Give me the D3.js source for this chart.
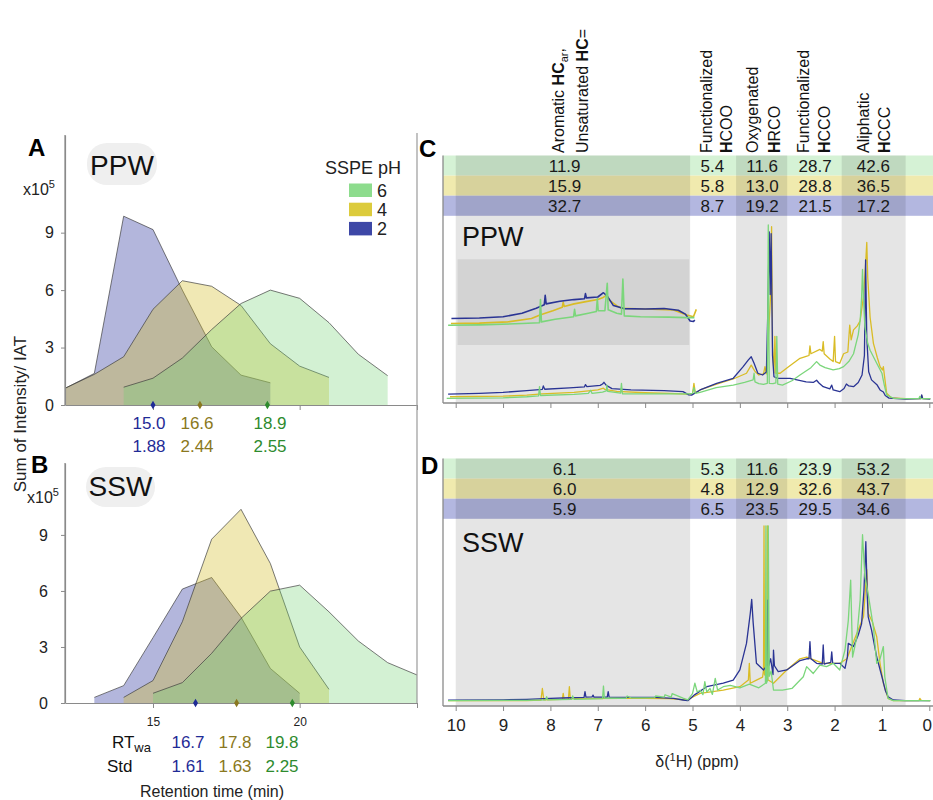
<!DOCTYPE html>
<html><head><meta charset="utf-8">
<script src="https://cdn.jsdelivr.net/npm/d3@7"></script>
<style>body{margin:0;background:#fff}svg{display:block;font-family:"Liberation Sans",Arial,sans-serif}</style>
</head><body><svg id="c" width="933" height="800"></svg>
<script>
// ---------------- DATA ----------------
// Retention-time profiles (x10^5), one value per minute
const ppwPH2Start = 12, ppwPH2 = [0.87,1.65,9.86,9.16,6.0,3.04,1.56,1.16];
const ppwPH4Start = 12, ppwPH4 = [0.87,1.6,2.52,5.0,6.49,6.2,5.2,3.2,2.03,1.44];
const ppwPH6Start = 14, ppwPH6 = [0.93,1.4,2.45,3.94,5.3,6.0,5.57,4.3,2.65,1.53];
const sswPH2Start = 13, sswPH2 = [0.3,0.93,3.5,6.1,6.72,4.6,1.85,0.52];
const sswPH4Start = 14, sswPH4 = [0.3,1.2,4.35,8.77,10.37,7.47,3.0,0.73];
const sswPH6Start = 15, sswPH6 = [0.52,1.09,2.66,4.53,5.99,6.31,4.88,3.32,2.16,1.5];
const ppwRT = ["15.0","16.6","18.9"], ppwStd = ["1.88","2.44","2.55"];
const ppwMarkers = [15.0,16.6,18.9];
const sswRT = ["16.7","17.8","19.8"], sswStd = ["1.61","1.63","2.25"];
const sswMarkers = [16.45,17.85,19.75];
const yTicksLeft = [0,3,6,9];
const legendPH = ["6","4","2"];

// NMR region boundaries (ppm) and integrated percentages
const regionEdges = [10.0,5.05,4.08,3.0,1.85,0.5];
const regionLabelPpm = [7.7,4.58,3.53,2.41,1.18];
const ppwPctPH6 = [11.9,5.4,11.6,28.7,42.6];
const ppwPctPH4 = [15.9,5.8,13.0,28.8,36.5];
const ppwPctPH2 = [32.7,8.7,19.2,21.5,17.2];
const sswPctPH6 = [6.1,5.3,11.6,23.9,53.2];
const sswPctPH4 = [6.0,4.8,12.9,32.6,43.7];
const sswPctPH2 = [5.9,6.5,23.5,29.5,34.6];
const ppmTicks = [10,9,8,7,6,5,4,3,2,1,0];

// Spectra [ppm, relative intensity 0-100]
const ppwNmrPH2 = [[10.16,2.8],[9.5,3.2],[9,3.8],[8.5,4.8],[8.17,5.5],[8.15,7.5],[8.12,5.6],[7.6,6.4],[7.28,7.0],[7.26,8.3],[7.23,7.1],[6.95,7.8],[6.9,8.6],[6.87,9.6],[6.82,7.8],[6.7,6.0],[6.3,5.2],[5.6,4.8],[5.2,4.2],[5.08,2.4],[5.02,2.2],[4.95,3.4],[4.84,5.2],[4.49,9.0],[4.14,11.9],[3.93,18.6],[3.82,22.5],[3.76,24.3],[3.7,20.5],[3.62,14.8],[3.52,13.8],[3.44,15.5],[3.41,50],[3.38,96],[3.36,60],[3.34,95],[3.31,25],[3.28,12.8],[3.2,11.9],[2.94,11.9],[2.6,9.8],[2.45,9.5],[2.38,10.8],[2.33,9.2],[2.24,7.1],[2.1,5.8],[2.06,8.0],[2.03,5.2],[1.89,4.2],[1.8,6],[1.75,8.6],[1.7,7.5],[1.6,7.1],[1.5,9.5],[1.42,13.8],[1.37,25],[1.345,80],[1.32,35],[1.28,15.7],[1.22,11],[1.1,8],[1.04,5.2],[0.97,4],[0.93,2.0],[0.85,0.5],[0.5,0],[0.18,0.2],[0.16,2.3],[0.14,0.2],[-0.02,0]];
const ppwNmrPH4 = [[10.12,1.3],[9,1.6],[8.5,2.2],[8.18,2.9],[7.5,3.8],[7.0,5.2],[6.88,6.2],[6.85,5.5],[6.6,4.4],[6,3.6],[5.5,3.2],[5.1,2.8],[5.0,3.0],[4.97,9],[4.94,3.4],[4.84,5.2],[4.49,8.6],[4.14,11.5],[3.86,14.8],[3.76,19.5],[3.68,15.8],[3.6,13.8],[3.5,14.5],[3.47,18.6],[3.44,14.5],[3.35,60],[3.33,99],[3.31,30],[3.28,15],[3.26,36],[3.24,14.8],[3.15,14.8],[3.0,18],[2.73,23.4],[2.6,24.5],[2.54,25],[2.52,30.5],[2.5,26],[2.31,28.5],[2.26,27.5],[2.24,33],[2.22,26],[2.1,23],[2.03,21.5],[2.0,36],[1.98,21.5],[1.89,20.5],[1.81,26],[1.72,27],[1.68,42.5],[1.65,34],[1.6,39.7],[1.52,42],[1.46,45],[1.39,58.8],[1.34,80],[1.32,90],[1.3,70],[1.25,47],[1.18,32],[1.1,24],[1.04,18.6],[0.99,16.7],[0.97,18.6],[0.95,14],[0.9,3.3],[0.8,0.6],[0.5,0.2],[0.18,0.3],[0.16,2],[0.14,0.3],[-0.02,0.2]];
const ppwNmrPH6 = [[10.19,0.4],[9,0.7],[8.5,1.3],[8.25,1.8],[8.23,7.1],[8.21,2],[7.5,2.7],[7.2,3.2],[7.15,5],[7.12,3.2],[6.9,4.0],[6.82,4.6],[6.81,8.0],[6.79,4.4],[6.52,3.4],[6.5,9.0],[6.48,3.0],[6.0,2.9],[5.3,2.9],[5.1,3.0],[5.0,3.2],[4.97,6.5],[4.94,3.2],[4.84,3.8],[4.5,6.5],[4.14,8.0],[3.9,9.5],[3.72,11],[3.7,14.8],[3.68,9.8],[3.6,8.8],[3.5,8.4],[3.42,9],[3.4,100],[3.38,9],[3.3,8.8],[3.24,9.2],[3.22,36],[3.2,8.6],[3.1,8.0],[2.9,10.5],[2.73,13.8],[2.5,18],[2.38,21.5],[2.31,19.5],[2.2,18],[2.03,16.7],[1.9,17.5],[1.81,18.6],[1.7,21.5],[1.6,26],[1.5,37],[1.46,45],[1.43,58],[1.41,74.5],[1.39,58],[1.36,41.6],[1.3,32],[1.25,28],[1.11,20.5],[1.0,14.8],[0.98,12],[0.95,8],[0.9,2.3],[0.75,0.4],[0.5,0.2],[0.22,0.3],[0.2,1.5],[0.18,0.3],[-0.02,0.2]];
// Magnified aromatic region (inset)
const ppwInsetPH2 = [[10.09,31],[9.5,31.5],[9.0,33],[8.6,37],[8.3,43],[8.13,47],[8.11,58],[8.09,48],[7.8,51],[7.5,53],[7.28,54],[7.26,60],[7.24,55],[7.0,56],[6.88,61],[6.8,57],[6.67,46],[6.45,42.5],[6.0,42],[5.6,42.5],[5.3,40.5],[5.15,36],[5.05,28],[4.98,27.5],[4.95,29]];
const ppwInsetPH4 = [[10.1,25],[9.5,25.5],[8.9,27],[8.4,31],[8.22,35],[7.95,40],[7.75,44],[7.73,50],[7.71,45],[7.5,48],[7.25,50.6],[7.0,53],[6.9,55],[6.82,58],[6.75,52],[6.6,46],[6.5,42.8],[6.0,42],[5.4,40.9],[5.12,35],[4.98,33],[4.92,41.6]];
const ppwInsetPH6 = [[10.16,23],[9.5,23.5],[8.6,25],[8.23,26],[8.21,53],[8.19,27],[7.9,30],[7.51,33],[7.49,41.6],[7.47,34],[7.2,37],[7.03,39],[7.01,54],[6.99,40],[6.85,40],[6.8,72],[6.78,41],[6.6,37],[6.5,36],[6.47,77],[6.44,34],[6.1,33],[5.5,32.5],[5.12,32],[4.96,32]];
const sswNmrPH2 = [[10.16,0.3],[9,0.5],[8.5,0.8],[8.0,1.3],[7.6,1.7],[7.29,1.9],[7.27,5.2],[7.25,2.0],[7.12,2.2],[7.1,3.2],[7.08,2.0],[6.8,2.0],[6.78,5.2],[6.76,2.0],[6.3,1.9],[5.8,1.9],[5.5,1.5],[5.4,1.3],[5.2,0.4],[5.1,0],[4.95,3.5],[4.7,8],[4.35,10],[4.14,11.8],[4.0,17.6],[3.86,32.8],[3.78,50],[3.75,58],[3.72,45],[3.65,21.4],[3.5,17.6],[3.43,20],[3.41,57.6],[3.39,20],[3.35,24],[3.3,15],[3.29,29],[3.27,20],[3.19,16.6],[3.01,17.6],[2.73,23],[2.59,24],[2.54,24],[2.52,33.8],[2.5,24],[2.38,21.4],[2.26,21],[2.24,31.9],[2.22,21],[2.17,21.4],[2.08,22],[2.06,28],[2.04,21.4],[1.89,21.4],[1.78,18.5],[1.73,25],[1.71,32.8],[1.6,31],[1.5,37.6],[1.43,44],[1.38,63],[1.34,91],[1.31,60],[1.29,48],[1.22,40.5],[1.11,25],[1.0,13.7],[0.93,6],[0.87,2.3],[0.76,0.4],[0.5,0],[-0.02,0]];
const sswNmrPH4 = [[10.16,0],[8.5,0],[8.2,0.3],[8.17,7],[8.14,0.5],[7.75,0.8],[7.73,4.2],[7.71,0.8],[7.62,1],[7.6,8],[7.58,1.2],[7.3,1.2],[6.5,1.4],[6,1.3],[5.5,1.2],[5.1,0.4],[5.0,2.0],[4.84,4.2],[4.35,6.1],[4.0,8],[3.82,11.8],[3.8,21.4],[3.78,10],[3.65,11.8],[3.52,13.5],[3.5,17.6],[3.49,100],[3.48,15],[3.43,13],[3.42,100],[3.41,12],[3.35,11],[3.29,10],[3.01,17.6],[2.73,24],[2.59,25],[2.24,21.4],[1.89,21.4],[1.74,24],[1.6,33.8],[1.5,40.5],[1.39,48],[1.32,75],[1.29,50],[1.2,45],[1.11,36.6],[1.04,21.4],[0.97,10],[0.87,1.3],[0.76,0],[0.22,0],[0.2,1.3],[0.17,0.2],[-0.02,0]];
const sswNmrPH6 = [[10.16,0],[8.5,0.2],[8.1,0.5],[8.08,2.3],[8.06,0.5],[7.55,0.8],[7.53,2.7],[7.5,0.8],[6.9,1.2],[6.88,8.4],[6.86,1.4],[6.4,1.4],[6.38,2.7],[6.3,1.6],[6.0,1.6],[5.8,1.8],[5.78,2.7],[5.6,2.0],[5.58,3.4],[5.45,2.0],[5.43,4.0],[5.2,1.5],[5.1,0.5],[5.0,4],[4.95,10],[4.9,5],[4.84,6],[4.78,3.5],[4.74,10.9],[4.7,5],[4.63,7],[4.58,3.6],[4.52,12.8],[4.47,6.1],[4.35,8],[4.2,8.8],[4.0,7.4],[3.8,9.5],[3.6,7.4],[3.46,10],[3.45,100],[3.44,10],[3.41,12],[3.40,100],[3.38,14],[3.34,17],[3.29,6.1],[3.1,6.1],[2.9,7],[2.66,13.7],[2.59,19.5],[2.45,15.6],[2.31,20.4],[2.17,19.5],[2.03,21.4],[1.89,17.6],[1.78,29],[1.71,46],[1.66,69],[1.62,25],[1.53,36.6],[1.46,57.6],[1.41,95],[1.36,71],[1.29,61],[1.18,42],[1.11,21.4],[1.04,24],[0.97,31],[0.94,13.7],[0.87,1.3],[0.76,0],[-0.02,0]];

// ---------------- STYLE ----------------
const C = {
  fill:{p2:"rgba(64,72,168,0.4)",p4:"rgba(212,190,40,0.35)",p6:"rgba(110,210,110,0.3)"},
  sw:{p6:"#8ddc8d",p4:"#dccb3c",p2:"#3d47a6"},
  txt:{p2:"#1f2b96",p4:"#8a7820",p6:"#2e8b2e"},
  line:{p2:"#2a3494",p4:"#d9bc26",p6:"#7bd67b"},
  row:{p6:"#d5f2d5",p4:"#f0eaae",p2:"#b3b7e0"}
};
const FF='"Liberation Sans",Arial,sans-serif';
const svg = d3.select("#c");

// ---------------- LEFT PANELS ----------------
const xL = d3.scaleLinear().domain([12,24]).range([65,417]);
const toPts = (start, vals) => vals.map((v,i)=>[start+i, v]);
const leftPanels = [
  {y:d3.scaleLinear().domain([0,14.1]).range([405,135]), ser:[[ppwPH2Start,ppwPH2,"p2"],[ppwPH4Start,ppwPH4,"p4"],[ppwPH6Start,ppwPH6,"p6"]], markers:ppwMarkers, labelsX:false},
  {y:d3.scaleLinear().domain([0,12.85]).range([703,463]), ser:[[sswPH2Start,sswPH2,"p2"],[sswPH4Start,sswPH4,"p4"],[sswPH6Start,sswPH6,"p6"]], markers:sswMarkers, labelsX:true}
];
leftPanels.forEach(P=>{
  const g = svg.append("g");
  const y0 = P.y(0);
  P.ser.forEach(([s,vals,k])=>{
    const pts = toPts(s,vals);
    g.append("path").attr("d", d3.area().x(d=>xL(d[0])).y0(y0).y1(d=>P.y(d[1]))(pts))
      .attr("fill", C.fill[k]);
    g.append("path").attr("d", d3.line().x(d=>xL(d[0])).y(d=>P.y(d[1]))(pts))
      .attr("fill","none").attr("stroke","#3a3a3a").attr("stroke-width",0.8).attr("stroke-opacity",0.85);
  });
  const ya = g.append("g").attr("transform",`translate(${xL(12)},0)`)
    .call(d3.axisLeft(P.y).tickValues(yTicksLeft).tickSize(4).tickPadding(P.labelsX?13:7).tickSizeOuter(0));
  ya.select(".domain").attr("stroke","#8a8a8a").attr("stroke-width",1.2);
  ya.selectAll(".tick line").attr("stroke","#8a8a8a");
  ya.selectAll("text").attr("font-size",16).attr("fill","#222").attr("font-family",FF);
  const xa = g.append("g").attr("transform",`translate(0,${y0})`)
    .call(d3.axisBottom(xL).tickValues([15,20,24]).tickSize(5).tickSizeOuter(0)
      .tickFormat(d=> P.labelsX && d!==24 ? d : ""));
  xa.select(".domain").attr("stroke","#8a8a8a").attr("stroke-width",1.2);
  xa.selectAll(".tick line").attr("stroke","#8a8a8a");
  xa.selectAll("text").attr("font-size",12).attr("fill","#222").attr("dy","1.25em").attr("font-family",FF);
  P.markers.forEach((m,i)=>{
    const k=["p2","p4","p6"][i];
    g.append("path").attr("d", d3.symbol(d3.symbolDiamond, 22)())
      .attr("transform",`translate(${xL(m)},${y0})`).attr("fill",C.txt[k]);
  });
});
svg.append("line").attr("x1",xL(12)).attr("x2",xL(12)).attr("y1",135).attr("y2",405).attr("stroke","#8a8a8a").attr("stroke-width",1.2);
svg.append("line").attr("x1",xL(12)).attr("x2",xL(12)).attr("y1",463).attr("y2",703).attr("stroke","#8a8a8a").attr("stroke-width",1.2);
svg.append("line").attr("x1",417).attr("x2",417).attr("y1",133).attr("y2",703).attr("stroke","#9a9a9a").attr("stroke-width",1.2);

function pill(x,y,w,h,label,base){
  svg.append("rect").attr("x",x).attr("y",y).attr("width",w).attr("height",h).attr("rx",20).attr("fill","#efefef");
  svg.append("text").attr("x",x+w/2).attr("y",base).attr("text-anchor","middle").attr("font-size",28).attr("fill","#111").text(label);
}
pill(87,143,70,42,"PPW",175);
pill(86,467,69,40,"SSW",496);
[["A",28,156],["B",31,473],["C",419,157],["D",421,474]].forEach(([t,x,y])=>
  svg.append("text").attr("x",x).attr("y",y).attr("font-size",24).attr("font-weight","bold").attr("fill","#000").text(t));
[[23,195],[27,503]].forEach(([x,y])=>{
  const t=svg.append("text").attr("x",x).attr("y",y).attr("font-size",16).attr("fill","#222");
  t.append("tspan").text("x10");
  t.append("tspan").attr("dy",-7).attr("font-size",11).text("5");
});
svg.append("text").attr("transform","translate(26,414) rotate(-90)").attr("text-anchor","middle")
  .attr("font-size",17).attr("fill","#222").text("Sum of Intensity/ IAT");
svg.append("text").attr("x",325).attr("y",174).attr("font-size",18).attr("fill","#222").text("SSPE pH");
legendPH.forEach((lab,i)=>{
  const k=["p6","p4","p2"][i];
  const yy=183.5+i*19.2;
  svg.append("rect").attr("x",349).attr("y",yy).attr("width",23).attr("height",13.5).attr("fill",C.sw[k]);
  svg.append("text").attr("x",377).attr("y",yy+13).attr("font-size",18).attr("fill","#222").text(lab);
});
const kk=["p2","p4","p6"];
const aCols=[149,197,270];
ppwRT.forEach((t,i)=>svg.append("text").attr("x",aCols[i]).attr("y",429).attr("text-anchor","middle").attr("font-size",17).attr("fill",C.txt[kk[i]]).text(t));
ppwStd.forEach((t,i)=>svg.append("text").attr("x",aCols[i]).attr("y",452).attr("text-anchor","middle").attr("font-size",17).attr("fill",C.txt[kk[i]]).text(t));
const bCols=[188,235,282];
sswRT.forEach((t,i)=>svg.append("text").attr("x",bCols[i]).attr("y",748).attr("text-anchor","middle").attr("font-size",17).attr("fill",C.txt[kk[i]]).text(t));
sswStd.forEach((t,i)=>svg.append("text").attr("x",bCols[i]).attr("y",772).attr("text-anchor","middle").attr("font-size",17).attr("fill",C.txt[kk[i]]).text(t));
{
  const t=svg.append("text").attr("x",112).attr("y",748).attr("font-size",17).attr("fill","#111");
  t.append("tspan").text("RT");
  t.append("tspan").attr("dy",4).attr("font-size",13).text("wa");
}
svg.append("text").attr("x",107).attr("y",772).attr("font-size",17).attr("fill","#111").text("Std");
svg.append("text").attr("x",212).attr("y",797).attr("text-anchor","middle").attr("font-size",16).attr("fill","#222").text("Retention time (min)");

// ---------------- RIGHT PANELS ----------------
const xR = d3.scaleLinear().domain([10,0]).range([455.7,929.3]);
const rightPanels = [
  {top:155.5, axisY:403, y:d3.scaleLinear().domain([0,100]).range([399,225]),
   pct:[ppwPctPH6,ppwPctPH4,ppwPctPH2], spec:[ppwNmrPH4,ppwNmrPH2,ppwNmrPH6], label:"PPW", labelY:246, inset:true, tickLabels:false},
  {top:458.5, axisY:706, y:d3.scaleLinear().domain([0,100]).range([700.7,526]),
   pct:[sswPctPH6,sswPctPH4,sswPctPH2], spec:[sswNmrPH4,sswNmrPH2,sswNmrPH6], label:"SSW", labelY:552, inset:false, tickLabels:true}
];
const specKeys=["p4","p2","p6"];
rightPanels.forEach(P=>{
  const g=svg.append("g");
  const rowH=20.1;
  ["p6","p4","p2"].forEach((k,i)=>{
    g.append("rect").attr("x",443).attr("y",P.top+i*rowH).attr("width",490).attr("height",rowH).attr("fill",C.row[k]);
  });
  for(let i=0;i<regionEdges.length-1;i+=2){
    g.append("rect").attr("x",xR(regionEdges[i])).attr("y",P.top)
      .attr("width",xR(regionEdges[i+1])-xR(regionEdges[i])).attr("height",P.axisY-P.top)
      .attr("fill","rgba(0,0,0,0.1)");
  }
  P.pct.forEach((arr,i)=>arr.forEach((v,j)=>{
    g.append("text").attr("x",xR(regionLabelPpm[j])).attr("y",P.top+i*rowH+rowH/2+6.2)
      .attr("text-anchor","middle").attr("font-size",17).attr("fill","#1a1a1a").text(v.toFixed(1));
  }));
  g.append("text").attr("x",462).attr("y",P.labelY).attr("font-size",27).attr("fill","#111").text(P.label);
  if(P.inset){
    const yi=d3.scaleLinear().domain([0,100]).range([345,259.3]);
    g.append("rect").attr("x",xR(9.96)).attr("y",259.3).attr("width",xR(5.07)-xR(9.96)).attr("height",85.7).attr("fill","#d3d3d3");
    [[ppwInsetPH4,"p4"],[ppwInsetPH2,"p2"],[ppwInsetPH6,"p6"]].forEach(([d,k])=>{
      g.append("path").attr("d",d3.line().x(p=>xR(p[0])).y(p=>yi(p[1]))(d))
        .attr("fill","none").attr("stroke",C.line[k]).attr("stroke-width",1.6).attr("stroke-linejoin","round");
    });
  }
  P.spec.forEach((d,i)=>{
    g.append("path").attr("d",d3.line().x(p=>xR(p[0])).y(p=>P.y(p[1]))(d))
      .attr("fill","none").attr("stroke",C.line[specKeys[i]]).attr("stroke-width",1.3).attr("stroke-linejoin","round");
  });
  g.append("line").attr("x1",443).attr("x2",443).attr("y1",P.top).attr("y2",P.axisY).attr("stroke","#8a8a8a").attr("stroke-width",1.3);
  const xa=g.append("g").attr("transform",`translate(0,${P.axisY})`)
    .call(d3.axisBottom(xR).tickValues(ppmTicks).tickSize(5).tickSizeOuter(0).tickPadding(8)
      .tickFormat(d=>P.tickLabels? d : ""));
  xa.select(".domain").remove();
  xa.selectAll(".tick line").attr("stroke","#8a8a8a");
  xa.selectAll("text").attr("font-size",17).attr("fill","#222").attr("font-family",FF)
    .attr("dx",d=>d===0?-2.5:0);
  g.append("line").attr("x1",443).attr("x2",933).attr("y1",P.axisY).attr("y2",P.axisY).attr("stroke","#8a8a8a").attr("stroke-width",1.3);
});
{
  const t=svg.append("text").attr("x",697).attr("y",767).attr("text-anchor","middle").attr("font-size",16).attr("fill","#222");
  t.append("tspan").text("δ(");
  t.append("tspan").attr("dy",-6).attr("font-size",11).text("1");
  t.append("tspan").attr("dy",6).text("H) (ppm)");
}
const headers = [
  [563.5,[["Aromatic ",0],["HC",1],["ar",2],[",",0]]],
  [588,[["Unsaturated ",0],["HC",1],["=",0]]],
  [712,[["Functionalized",0]]],
  [732,[["H",1],["COO",0]]],
  [757.5,[["Oxygenated",0]]],
  [780,[["H",1],["RCO",0]]],
  [808.5,[["Functionalized",0]]],
  [829.5,[["H",1],["CCO",0]]],
  [868.5,[["Aliphatic",0]]],
  [890,[["H",1],["CCC",0]]]
];
headers.forEach(([x,segs])=>{
  const t=svg.append("text").attr("transform",`translate(${x},153) rotate(-90)`).attr("font-size",16).attr("fill","#111");
  let shifted=false;
  segs.forEach(([s,f])=>{
    const ts=t.append("tspan").text(s);
    if(f===1) ts.attr("font-weight","bold");
    if(f===2){ts.attr("font-size",11).attr("dy",4);shifted=true;}
    else if(shifted){ts.attr("dy",-4);shifted=false;}
  });
});
</script></body></html>
